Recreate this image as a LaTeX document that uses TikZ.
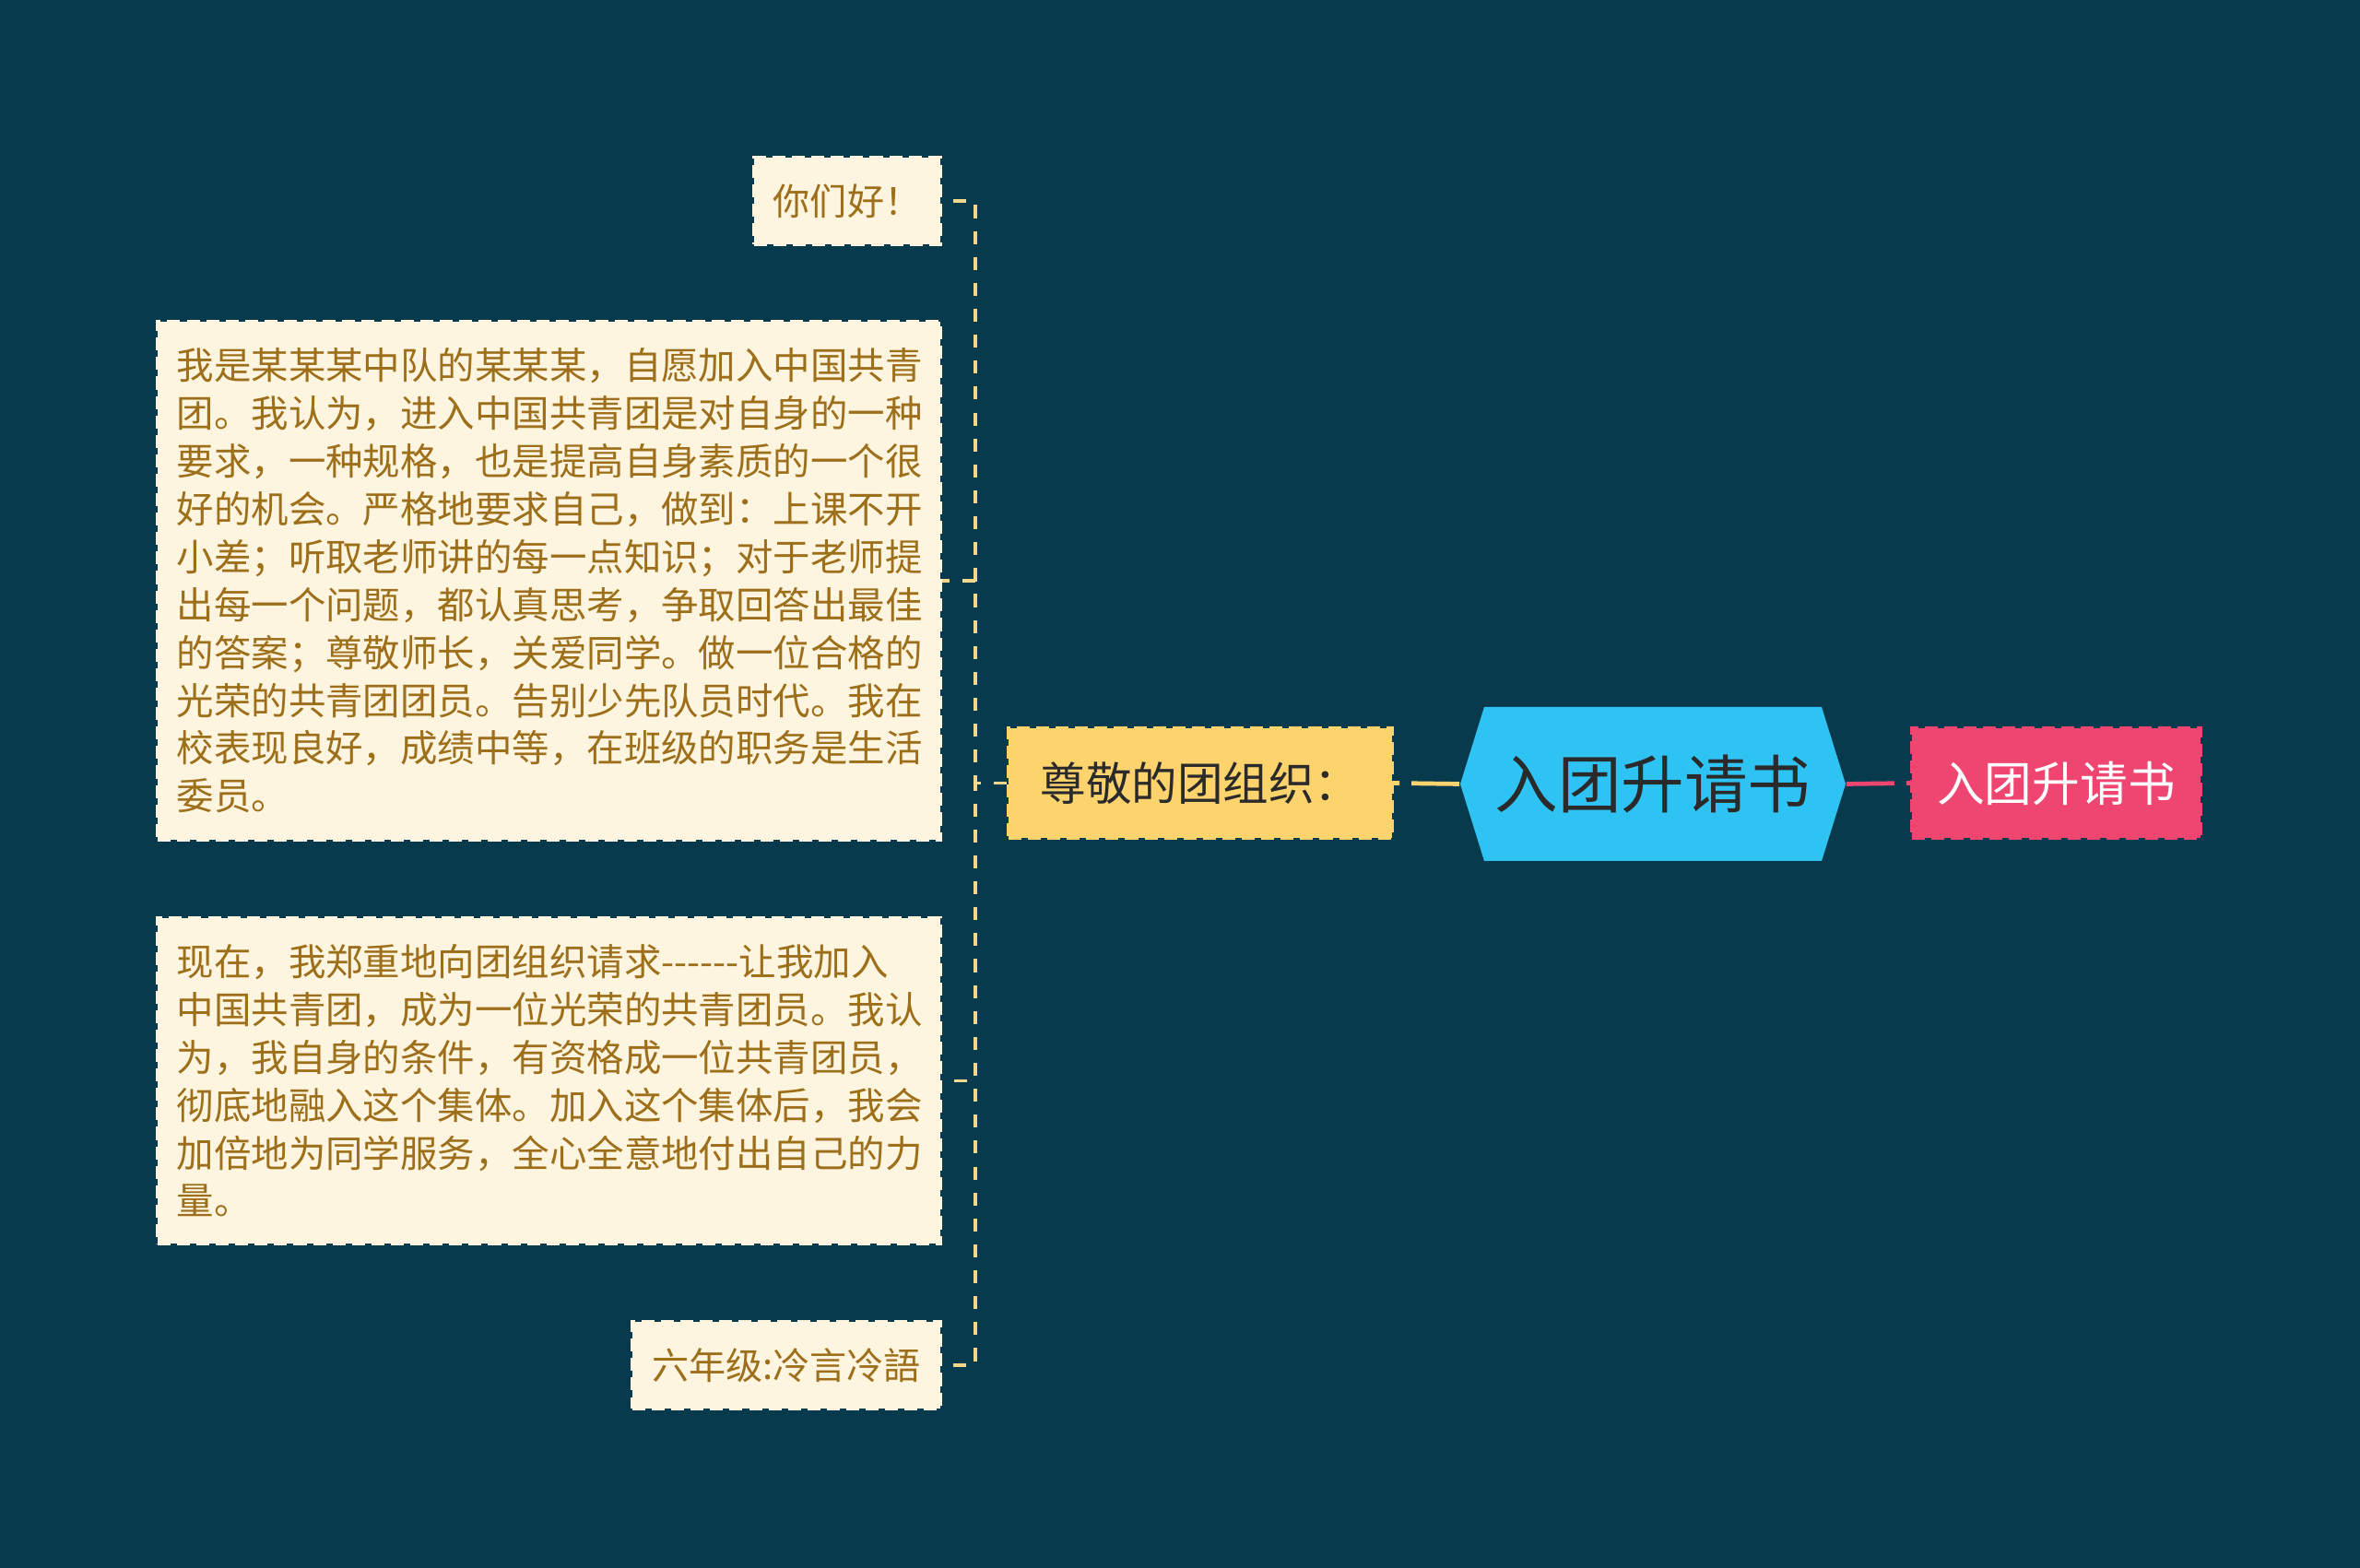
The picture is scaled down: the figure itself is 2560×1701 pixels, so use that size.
\documentclass[tikz,border=0pt]{standalone}
\usepackage{fontspec}
\newfontfamily\cjk{Noto Sans CJK SC}
\usetikzlibrary{calc,backgrounds}
\definecolor{fond}{HTML}{083A4E}
\definecolor{creme}{HTML}{FDF5E0}
\definecolor{brun}{HTML}{9E6F1A}
\definecolor{jaune}{HTML}{FDD36E}
\definecolor{jaunepale}{HTML}{F2D88A}
\definecolor{bleu}{HTML}{2EC3F3}
\definecolor{rose}{HTML}{EE4670}
\definecolor{sombre}{HTML}{2A2A2A}
\newcommand{\taillefeuille}{\fontsize{11.5pt}{14.75pt}\selectfont}
\newcommand{\taillecourt}{\fontsize{11.4pt}{14pt}\selectfont}
\newcommand{\taillesujet}{\fontsize{14.1pt}{17pt}\selectfont}
\newcommand{\tailleracine}{\fontsize{19.5pt}{23pt}\selectfont}
\newcommand{\tailletitre}{\fontsize{14.7pt}{17pt}\selectfont}
\exhyphenpenalty=10000

\begin{document}
\begin{tikzpicture}[%
    x=0.01cm,y=-0.01cm,%
    show background rectangle,%
    tight background,%
    background rectangle/.style={fill=fond}%
    ]
    % Carte mentale, une branche a gauche

    %
    % Définitions
    %
    \pgfmathsetmacro{\xt}{1058};% tronc
    \pgfmathsetmacro{\ys}{849.5};% ligne centrale
    \pgfmathsetmacro{\xh}{1793};% centre hexagone
    \pgfmathsetmacro{\yh}{850.5};%
    \pgfmathsetmacro{\lh}{209};% demi-largeur
    \pgfmathsetmacro{\hh}{83.5};% demi-hauteur
    \pgfmathsetmacro{\pente}{26};%

    %
    % Styles
    %
    \tikzset{%
      feuille/.style={fill=creme,draw=creme,line width=1pt,%
        dash pattern=on 4pt off 2pt,text=brun,inner sep=0pt},%
      sujetboite/.style={fill=jaune,draw=jaune,line width=1pt,%
        dash pattern=on 4pt off 2pt,text=sombre,inner sep=0pt,%
        font=\cjk\taillesujet},%
      titreboite/.style={fill=rose,draw=rose,line width=1pt,%
        dash pattern=on 4pt off 2pt,text=white,inner sep=0pt,%
        font=\cjk\tailletitre},%
      tronc/.style={draw=jaunepale,line width=0.94pt,dash pattern=on 4pt off 4pt},%
      lienjaune/.style={draw=jaune,line width=1.34pt,dash pattern=on 14.8pt off 3.7pt},%
      lienrose/.style={draw=rose,line width=1.34pt,dash pattern=on 14.8pt off 3.7pt}%
    }%

    \useasboundingbox (0,0) rectangle (2560,1701);%

    %
    % Coordonnées
    %
    \coordinate (coude) at (\xt,\ys);%

    %
    % Dessin
    %
    % Hexagone central
    \fill[bleu] (\xh-\lh,\yh) -- (\xh-\lh+\pente,\yh-\hh) %
    -- (\xh+\lh-\pente,\yh-\hh) -- (\xh+\lh,\yh) %
    -- (\xh+\lh-\pente,\yh+\hh) -- (\xh-\lh+\pente,\yh+\hh) -- cycle;%
    \node[minimum width=4.18cm,minimum height=1.67cm,inner sep=0pt,%
      text=sombre,font=\cjk\tailleracine] (racine) at (\xh,\yh) {入团升请书};%

    % Noeuds principaux
    \node[sujetboite,minimum width=4.16cm,minimum height=1.19cm] %
      (sujet) at (1302,\ys) {尊敬的团组织：};%
    \node[titreboite,minimum width=3.13cm,minimum height=1.19cm] %
      (titre) at (2230.5,\ys) {入团升请书};%

    % Feuilles
    \node[feuille,minimum width=2.02cm,minimum height=0.94cm,font=\cjk\taillecourt] %
      (salut) at (919,218) {你们好！};%
    \node[feuille,minimum width=8.49cm,minimum height=5.62cm,text width=8.07cm,%
      align=left,font=\cjk\taillefeuille] (para1) at (595.5,630) {%
      我是某某某中队的某某某，自愿加入中国共青\\
      团。我认为，进入中国共青团是对自身的一种\\
      要求，一种规格，也是提高自身素质的一个很\\
      好的机会。严格地要求自己，做到：上课不开\\
      小差；听取老师讲的每一点知识；对于老师提\\
      出每一个问题，都认真思考，争取回答出最佳\\
      的答案；尊敬师长，关爱同学。做一位合格的\\
      光荣的共青团团员。告别少先队员时代。我在\\
      校表现良好，成绩中等，在班级的职务是生活\\
      委员。};%
    \node[feuille,minimum width=8.49cm,minimum height=3.53cm,text width=8.07cm,%
      align=left,font=\cjk\taillefeuille] (para2) at (595.5,1172.5) {%
      \mbox{现在，我郑重地向团组织请求------让我加入}\\
      中国共青团，成为一位光荣的共青团员。我认\\
      为，我自身的条件，有资格成一位共青团员，\\
      彻底地融入这个集体。加入这个集体后，我会\\
      加倍地为同学服务，全心全意地付出自己的力\\
      量。};%
    \node[feuille,minimum width=3.34cm,minimum height=0.94cm,font=\cjk\taillecourt] %
      (signe) at (853,1481) {六年级:冷言冷語};%

    % Liens
    \draw[lienjaune] (racine.west) -- (sujet.east);%
    \draw[lienrose] (racine.east) -- (titre.west);%
    \draw[tronc] (sujet.west) -- (coude) |- (salut.east);%
    \draw[tronc] (sujet.west) -- (coude) |- (para1.east);%
    \draw[tronc] (sujet.west) -- (coude) |- (para2.east);%
    \draw[tronc] (sujet.west) -- (coude) |- (signe.east);%

\end{tikzpicture}
\end{document}
